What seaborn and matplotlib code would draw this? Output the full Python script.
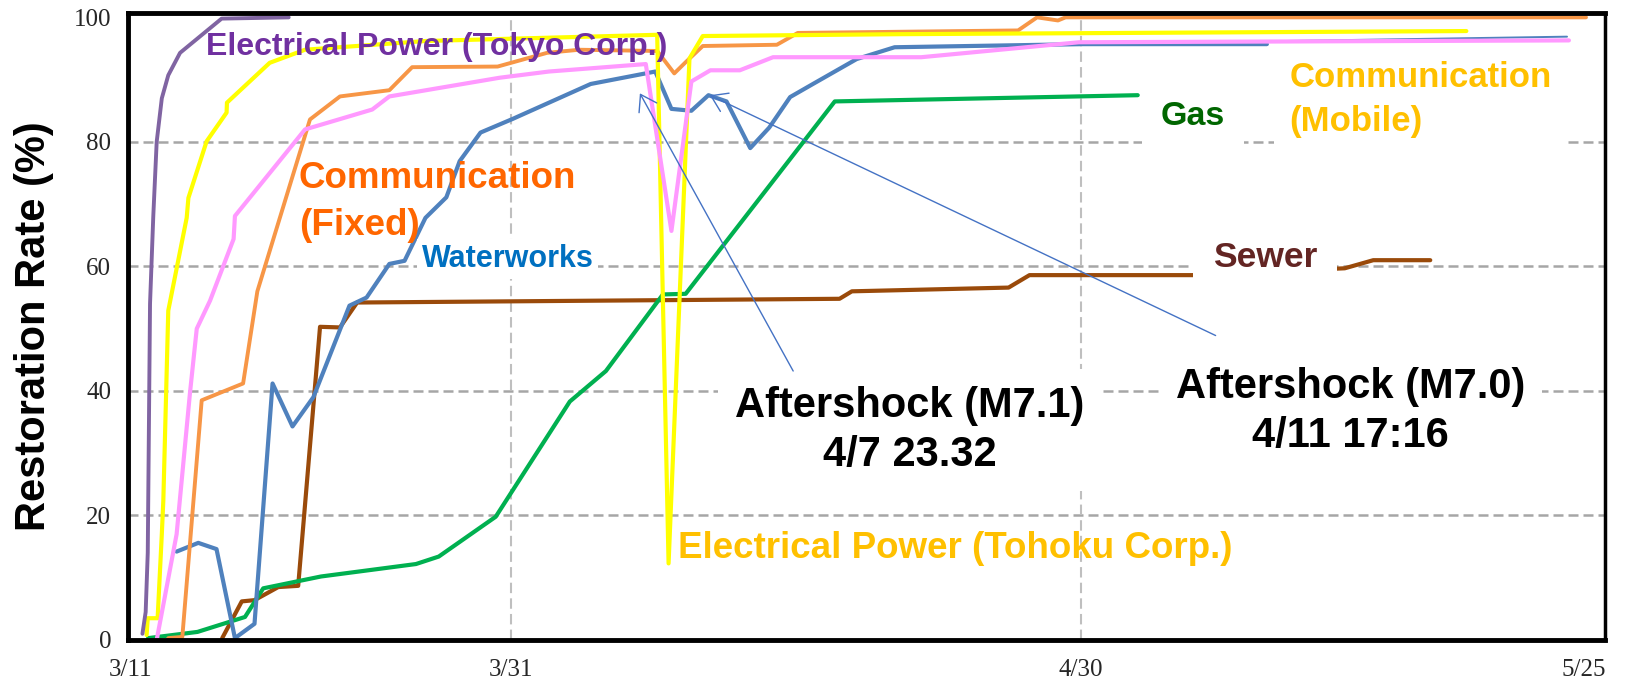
import matplotlib
matplotlib.use("Agg")
import matplotlib.pyplot as plt
import seaborn as sns

# ---------------- data (x = days since 3/11, y = restoration rate %) ----------------
tokyo_days = [0.6, 0.77, 0.88, 1.0, 1.17, 1.35, 1.62, 1.96, 2.58, 4.77, 8.3]
tokyo_rate = [1.0, 4.5, 14.0, 54.0, 68.0, 80.0, 87.0, 90.7, 94.3, 99.8, 100.0]

tohoku_days = [0.82, 0.88, 1.4, 1.62, 1.7, 1.96, 2.93, 3.02, 3.98, 5.03, 5.05, 7.3, 9.16,
               15.5, 27.7, 28.3, 29.4, 30.1, 40.5, 70.3]
tohoku_rate = [0.8, 3.5, 3.5, 17.0, 22.4, 52.9, 67.8, 71.0, 80.1, 84.7, 86.3, 92.7, 94.8,
               96.2, 97.2, 12.3, 93.4, 97.0, 97.3, 97.8]

mobile_days = [1.35, 2.4, 3.1, 3.46, 4.16, 5.4, 5.47, 9.16, 12.7, 13.6, 19.4, 22.0, 27.1,
               28.45, 29.5, 30.5, 32.05, 33.8, 41.6, 49.9, 75.7]
mobile_rate = [0.0, 17.0, 39.6, 50.0, 54.5, 64.4, 68.1, 82.0, 85.2, 87.3, 90.3, 91.3, 92.5,
               65.7, 89.7, 91.5, 91.5, 93.6, 93.6, 96.0, 96.3]

fixed_days = [1.96, 2.7, 3.72, 5.9, 6.65, 9.42, 11.0, 13.6, 14.8, 19.3, 21.9, 23.6, 27.7,
              28.6, 29.2, 30.1, 34.0, 35.1, 46.7, 47.7, 48.8, 49.2, 76.6]
fixed_rate = [0.3, 0.5, 38.5, 41.2, 56.0, 83.6, 87.3, 88.3, 92.0, 92.1, 94.3, 94.8, 94.6,
              91.0, 92.8, 95.4, 95.6, 97.5, 97.9, 100.0, 99.5, 100.0, 100.0]

water_days = [2.4, 3.54, 4.5, 5.47, 6.5, 7.45, 8.5, 9.6, 11.5, 12.4, 13.6, 14.4, 15.5, 16.6,
              17.3, 18.4, 20.1, 24.2, 27.6, 28.45, 29.5, 30.4, 31.35, 32.6, 33.6, 34.7, 35.9,
              38.2, 40.2, 50.1, 59.8]
water_rate = [14.2, 15.6, 14.6, 0.3, 2.6, 41.2, 34.3, 39.0, 53.7, 55.0, 60.4, 60.9, 67.8, 71.1,
              76.9, 81.5, 83.7, 89.3, 91.3, 85.3, 85.0, 87.5, 86.5, 79.0, 82.3, 87.2, 89.3,
              93.3, 95.2, 95.7, 95.7]
water2_days = [50.1, 75.6]
water2_rate = [95.7, 96.9]

gas_days = [0.9, 3.5, 6.0, 6.96, 10.0, 15.0, 16.2, 19.2, 23.1, 25.0, 28.0, 29.2, 37.05, 53.0]
gas_rate = [0.3, 1.3, 3.7, 8.3, 10.2, 12.2, 13.4, 19.8, 38.3, 43.2, 55.5, 55.6, 86.5, 87.5]

sewer_days = [4.8, 5.83, 6.5, 7.75, 8.8, 9.95, 11.0, 11.9, 37.3, 37.95, 46.2, 47.3, 55.9,
              63.9, 65.4, 68.4]
sewer_rate = [0.3, 6.2, 6.4, 8.5, 8.7, 50.3, 50.2, 54.2, 54.8, 56.0, 56.6, 58.6, 58.6,
              59.7, 61.0, 61.0]

x_tick_labels = ["3/11", "3/31", "4/30", "5/25"]
y_ticks = [0, 20, 40, 60, 80, 100]

label_tokyo = "Electrical Power (Tokyo Corp.)"
label_tohoku = "Electrical Power (Tohoku Corp.)"
label_fixed = "Communication\n(Fixed)"
label_mobile = "Communication\n(Mobile)"
label_water = "Waterworks"
label_gas = "Gas"
label_sewer = "Sewer"
label_m71 = "Aftershock (M7.1)\n4/7 23.32"
label_m70 = "Aftershock (M7.0)\n4/11 17:16"
y_title = "Restoration Rate (%)"

# ---------------- layout ----------------
x_tick_pos = [0, 20, 50, 76.5]

sns.set_theme(style="white")
plt.rcParams['font.family'] = ['Liberation Sans', 'DejaVu Sans']

W, H = 1630, 681
fig = plt.figure(figsize=(W / 100, H / 100), dpi=100)
ax = fig.add_axes([128 / W, 1 - 640 / H, (1605 - 128) / W, (640 - 13) / H])

grid_kw = dict(color="#A6A6A6", lw=1.8, ls=(0, (4, 2)), zorder=0.5)
for yv in y_ticks[1:-1]:
    ax.axhline(yv, **grid_kw)
for xv in x_tick_pos[1:-1]:
    ax.axvline(xv, color="#BFBFBF", lw=1.5, ls=(0, (5, 2.5)), zorder=0.5)

series = [
    (sewer_days, sewer_rate, "#9A4A0A", 3.0),
    (gas_days, gas_rate, "#00B050", 3.0),
    (water_days, water_rate, "#4F81BD", 3.0),
    (water2_days, water2_rate, "#4F81BD", 1.4),
    (fixed_days, fixed_rate, "#F79646", 2.8),
    (tohoku_days, tohoku_rate, "#FFFF00", 3.0),
    (mobile_days, mobile_rate, "#FF99FF", 3.0),
    (tokyo_days, tokyo_rate, "#8064A2", 2.8),
]
for d, v, c, lw in series:
    sns.lineplot(x=d, y=v, ax=ax, color=c, lw=lw, estimator=None, sort=False,
                 legend=False, zorder=2)

ax.set_xlim(-0.16, 77.6)
ax.set_ylim(0, 100.7)
ax.set_xticks(x_tick_pos, x_tick_labels)
ax.set_yticks(y_ticks)
ax.tick_params(axis="both", length=0, labelsize=18)
ax.tick_params(axis="x", pad=14)
ax.tick_params(axis="y", pad=12)
for lab in ax.get_xticklabels() + ax.get_yticklabels():
    lab.set_fontfamily("Liberation Serif")
for sp in ax.spines.values():
    sp.set_visible(True)
    sp.set_color("black")
    sp.set_linewidth(3.5)
ax.spines["right"].set_linewidth(2.5)

ax.set_ylabel(y_title, fontsize=30, fontweight="bold", color="black")
ax.yaxis.set_label_coords(-0.05, 0.5)

white = dict(facecolor="white", edgecolor="none")

ax.text(16.1, 95.3, label_tokyo, color="#7030A0", fontsize=23, fontweight="bold",
        ha="center", va="center", zorder=4)
ax.text(8.84, 70.3, label_fixed, color="#FF6600", fontsize=26.5, fontweight="bold",
        ha="left", va="center", linespacing=1.45, zorder=4)
ax.text(19.84, 61.2, label_water, color="#0070C0", fontsize=22, fontweight="bold",
        ha="center", va="center", zorder=4, bbox=dict(boxstyle="square,pad=0.15", **white))
ax.text(55.9, 84.1, label_gas, color="#006600", fontsize=24.5, fontweight="bold",
        ha="center", va="center", zorder=4, bbox=dict(boxstyle="square,pad=0.55", **white))
ax.text(60.99, 86.8, label_mobile, color="#FFC000", fontsize=25, fontweight="bold",
        ha="left", va="center", linespacing=1.45, zorder=4,
        bbox=dict(boxstyle="square,pad=0.45", **white))
ax.text(59.7, 61.4, label_sewer, color="#632523", fontsize=25.5, fontweight="bold",
        ha="center", va="center", zorder=4, bbox=dict(boxstyle="square,pad=0.55", **white))
ax.text(43.4, 14.7, label_tohoku, color="#FFC000", fontsize=26.5, fontweight="bold",
        ha="center", va="center", zorder=4)
ax.text(41.0, 33.7, label_m71, color="black", fontsize=30, fontweight="bold",
        ha="center", va="center", multialignment="center", linespacing=1.3, zorder=4,
        bbox=dict(boxstyle="square,pad=0.4", **white))
ax.text(64.2, 36.7, label_m70, color="black", fontsize=30, fontweight="bold",
        ha="center", va="center", multialignment="center", linespacing=1.3, zorder=4,
        bbox=dict(boxstyle="square,pad=0.4", **white))

arrow_kw = dict(arrowstyle="->,head_length=0.5,head_width=0.33", color="#4472C4", lw=1.0,
                mutation_scale=22, shrinkA=0, shrinkB=0)
ax.annotate("", xy=(26.79, 87.8), xytext=(34.86, 43.2), arrowprops=arrow_kw, zorder=5)
ax.annotate("", xy=(30.47, 87.5), xytext=(57.1, 48.9), arrowprops=arrow_kw, zorder=5)

fig.savefig("out.png", dpi=100)
